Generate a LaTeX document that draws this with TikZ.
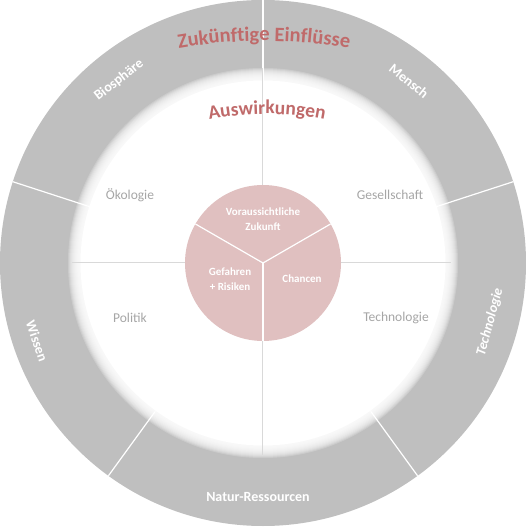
\documentclass[tikz,border=0pt]{standalone}
\usepackage{fontspec}
\setmainfont{Carlito}
\usetikzlibrary{decorations.text}

\definecolor{ringgray}{RGB}{191,191,191}
\definecolor{rose}{RGB}{192,106,106}
\definecolor{corepink}{RGB}{224,192,192}
\definecolor{quadgray}{RGB}{166,166,166}
\definecolor{crossgray}{RGB}{217,217,217}

\tikzset{
	ringlabel/.style={text=white, font=\fontsize{14}{14}\selectfont\bfseries},
	quadlabel/.style={text=quadgray, font=\fontsize{13.5}{13.5}\selectfont},
	corelabel/.style={text=white, align=center, font=\fontsize{11}{15}\selectfont\bfseries},
	divider/.style={white, line width=1.2pt},
}

\begin{document}
\begin{tikzpicture}[x=1pt, y=1pt]
		\useasboundingbox (-263,-267) rectangle (263,263);

		\coordinate (c) at (0,0);

		% outer ring with five sectors
		\fill[ringgray] (c) circle (263);
		\foreach \a in {90,18,-54,-126,162}
			\draw[divider] (\a:180) -- (\a:263);

		% soft white disc
		\foreach \r in {195,194,...,183}
			\fill[white, opacity=0.2] (c) circle (\r);
		\fill[white] (c) circle (182.5);

		\draw[crossgray, line width=1pt] (90:195) -- (270:192);
		\draw[crossgray, line width=1pt] (180:191) -- (0:188);

		% core
		\fill[corepink] (c) circle (78);
		\foreach \a in {30,150,270}
			\draw[divider] (c) -- (\a:78);

		% arced titles
		\path[decorate, decoration={text along path, text align=center, text color=rose,
			text={|\fontsize{20.5}{20.5}\selectfont\bfseries|Zukünftige Einflüsse}}]
			([shift={(1,-278)}]106:500) arc[start angle=106, end angle=74, radius=500];
		\path[decorate, decoration={text along path, text align=center, text color=rose,
			text={|\fontsize{19.5}{19.5}\selectfont\bfseries|Auswirkungen}}]
			([shift={(4,-151)}]118:300) arc[start angle=118, end angle=62, radius=300];

		\node[ringlabel, rotate=38] (biosphaere) at (-144,183) {Biosphäre};
		\node[ringlabel, rotate=-38.6] (mensch) at (146,182) {Mensch};
		\node[ringlabel, rotate=75, font=\fontsize{14}{14}\selectfont\bfseries\itshape] (technologie) at (227,-59) {Technologie};
		\node[ringlabel] (ressourcen) at (-5,-234) {Natur-Ressourcen};
		\node[ringlabel, rotate=-71] (wissen) at (-226,-78) {Wissen};

		\node[quadlabel] (oekologie) at (-133,68) {Ökologie};
		\node[quadlabel] (gesellschaft) at (127,68) {Gesellschaft};
		\node[quadlabel] (politik) at (-133,-55) {Politik};
		\node[quadlabel] (technik) at (133,-55) {Technologie};

		\node[corelabel] (zukunft) at (0,44) {Voraussichtliche\\Zukunft};
		\node[corelabel] (gefahren) at (-33,-16) {Gefahren\\+ Risiken};
		\node[corelabel] (chancen) at (39,-16) {Chancen};
	\end{tikzpicture}
\end{document}
